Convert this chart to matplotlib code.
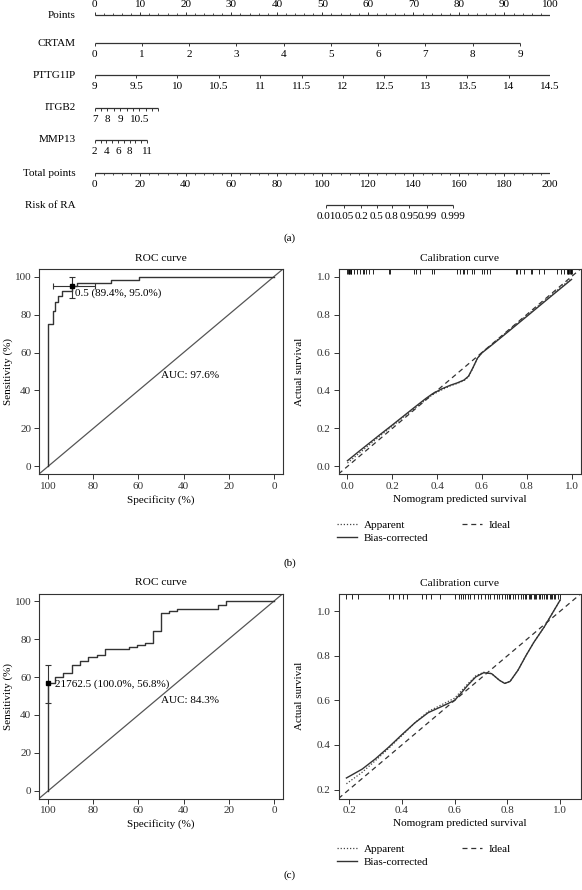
import numpy as np
import matplotlib.pyplot as plt

plt.rcParams["font.family"] = ["Liberation Serif", "DejaVu Serif"]
plt.rcParams["font.size"] = 8.0

INK = "#333333"

# ---- nomogram (a) ----
ROW_NAMES = ["Points", "CRTAM", "PTTG1IP", "ITGB2", "MMP13", "Total points", "Risk of RA"]

CRTAM_TICKS = [0, 1, 2, 3, 4, 5, 6, 7, 8, 9]
CRTAM_LABELS = ["0", "1", "2", "3", "4", "5", "6", "7", "8", "9"]
CRTAM_MAX_POINTS = 93.4

PTTG1IP_TICKS = [9, 9.5, 10, 10.5, 11, 11.5, 12, 12.5, 13, 13.5, 14, 14.5]
PTTG1IP_LABELS = ["9", "9.5", "10", "10.5", "11", "11.5", "12", "12.5", "13", "13.5", "14", "14.5"]
PTTG1IP_MAX_POINTS = 100.0

ITGB2_TICKS = [7, 7.5, 8, 8.5, 9, 9.5, 10, 10.5, 11, 11.5, 12]
ITGB2_LABELS = ["7", "8", "9", "10.5"]
ITGB2_MAX_POINTS = 14.0

MMP13_TICKS = [2, 3, 4, 5, 6, 7, 8, 9, 10, 11]
MMP13_LABELS = ["2", "4", "6", "8", "11"]
MMP13_MAX_POINTS = 11.5

RISK_LABELS = [0.01, 0.05, 0.2, 0.5, 0.8, 0.95, 0.99, 0.999]
RISK_TOTAL_AT_HALF = 123.8   # total points where risk = 0.5
RISK_POINTS_PER_LOGIT = 4.84

# ---- ROC (b) ----
ROC_B_SPEC = [100, 100, 97.9, 97.9, 96.8, 96.8, 95.7, 95.7, 93.6, 93.6, 89.4, 89.4,
              87.2, 87.2, 72.3, 72.3, 59.6, 59.6, 0]
ROC_B_SENS = [0, 75, 75, 81.7, 81.7, 86.7, 86.7, 90, 90, 92.5, 92.5, 95,
              95, 96.7, 96.7, 98.3, 98.3, 100, 100]
ROC_B_THRES = (89.4, 95.0)
ROC_B_SPEC_CI = (79.1, 98.0)
ROC_B_SENS_CI = (88.6, 100.0)
ROC_B_TEXT = "0.5 (89.4%, 95.0%)"
ROC_B_AUC = "AUC: 97.6%"

# ---- ROC (c) ----
ROC_C_SPEC = [100, 100, 97.0, 97.0, 93.3, 93.3, 89.6, 89.6, 85.9, 85.9, 82.2, 82.2,
              78.4, 78.4, 75.0, 75.0, 64.3, 64.3, 60.6, 60.6, 57.2, 57.2, 53.5, 53.5,
              49.9, 49.9, 46.5, 46.5, 42.8, 42.8, 24.7, 24.7, 21.3, 21.3, 0]
ROC_C_SENS = [0, 56.8, 56.8, 59.8, 59.8, 62.3, 62.3, 66.1, 66.1, 68.6, 68.6, 70.4,
              70.4, 71.8, 71.8, 74.6, 74.6, 75.9, 75.9, 77.0, 77.0, 78.1, 78.1, 84.4,
              84.4, 93.9, 93.9, 94.9, 94.9, 95.8, 95.8, 97.9, 97.9, 100, 100]
ROC_C_THRES = (100.0, 56.8)
ROC_C_SENS_CI = (46.2, 66.3)
ROC_C_TEXT = "21762.5 (100.0%, 56.8%)"
ROC_C_AUC = "AUC: 84.3%"

# ---- calibration (b) ----
CAL_B_PRED = [0.0, 0.05, 0.1, 0.15, 0.2, 0.25, 0.3, 0.35, 0.38, 0.42, 0.46, 0.49,
              0.52, 0.54, 0.56, 0.58, 0.6, 0.65, 0.7, 0.8, 0.9, 1.0]
CAL_B_BIAS = [0.03, 0.078, 0.125, 0.172, 0.218, 0.265, 0.312, 0.358, 0.383, 0.408,
              0.428, 0.44, 0.455, 0.475, 0.52, 0.57, 0.598, 0.645, 0.693, 0.79, 0.888, 0.985]
CAL_B_APPARENT = [0.018, 0.067, 0.116, 0.165, 0.212, 0.26, 0.305, 0.352, 0.378, 0.403,
                  0.425, 0.437, 0.452, 0.472, 0.518, 0.57, 0.6, 0.648, 0.697, 0.795, 0.893, 0.99]
CAL_B_RUG = [0.0, 0.003, 0.006, 0.009, 0.012, 0.015, 0.018, 0.03, 0.042, 0.057, 0.07,
             0.074, 0.084, 0.098, 0.116, 0.185, 0.191, 0.298, 0.307, 0.322, 0.377,
             0.385, 0.489, 0.504, 0.515, 0.521, 0.534, 0.556, 0.563, 0.601, 0.608,
             0.623, 0.635, 0.75, 0.757, 0.772, 0.787, 0.817, 0.824, 0.854, 0.876,
             0.936, 0.951, 0.966, 0.978, 0.982, 0.986, 0.99, 0.993, 0.996, 0.999, 1.0]

# ---- calibration (c) ----
CAL_C_PRED = [0.19, 0.25, 0.3, 0.35, 0.4, 0.45, 0.5, 0.55, 0.6, 0.63, 0.65, 0.68,
              0.71, 0.74, 0.77, 0.79, 0.81, 0.84, 0.87, 0.9, 0.94, 0.97, 1.0]
CAL_C_BIAS = [0.252, 0.292, 0.338, 0.39, 0.446, 0.5, 0.545, 0.572, 0.6, 0.64, 0.668,
              0.705, 0.724, 0.72, 0.69, 0.676, 0.685, 0.735, 0.8, 0.86, 0.93, 0.99, 1.05]
CAL_C_APPARENT = [0.226, 0.278, 0.33, 0.385, 0.442, 0.5, 0.55, 0.58, 0.61, 0.648, 0.674,
                  0.71, 0.726, 0.72, 0.69, 0.676, 0.685, 0.735, 0.8, 0.86, 0.93, 0.99, 1.05]
CAL_C_RUG = [0.19, 0.21, 0.235, 0.35, 0.365, 0.39, 0.405, 0.42, 0.475, 0.49, 0.51,
             0.545, 0.6, 0.615, 0.625, 0.632, 0.64, 0.65, 0.66, 0.675, 0.69, 0.7,
             0.715, 0.725, 0.735, 0.75, 0.76, 0.77, 0.78, 0.79, 0.8, 0.805, 0.81,
             0.82, 0.83, 0.84, 0.85, 0.86, 0.865, 0.87, 0.88, 0.885, 0.89, 0.9, 0.905,
             0.91, 0.92, 0.925, 0.93, 0.94, 0.945, 0.95, 0.96, 0.965, 0.97, 0.975,
             0.98, 0.99, 1.0]

W, H = 582, 890
fig = plt.figure(figsize=(W / 100, H / 100), dpi=100)


def px_axes(left, top, right, bottom):
    return fig.add_axes([left / W, 1 - bottom / H, (right - left) / W, (bottom - top) / H])


def scale_points(values, max_points):
    values = np.asarray(values, dtype=float)
    return (values - values[0]) / (values[-1] - values[0]) * max_points


def draw_scale(ax, y, tick_pts, label_pts, labels, up=False, minor_pts=None):
    ax.plot([tick_pts[0], tick_pts[-1]], [y, y], color=INK, lw=0.9, solid_capstyle="butt")
    sign = -1 if up else 1
    ax.vlines(tick_pts, y, y + sign * 3.3, color=INK, lw=0.7)
    if minor_pts is not None:
        ax.vlines(minor_pts, y, y + sign * 1.8, color=INK, lw=0.6)
    for p, lab in zip(label_pts, labels):
        if up:
            ax.text(p, y - 6.0, lab, ha="center", va="bottom")
        else:
            ax.text(p, y + 7.0, lab, ha="center", va="top")


nom = px_axes(94.7, 0, 550, 230)
nom.set_xlim(0, 100)
nom.set_ylim(230, 0)
nom.axis("off")
row_y = [15, 43, 75, 108, 140, 173, 205]

for name, y in zip(ROW_NAMES, row_y):
    nom.annotate(name, xy=(0, y), xytext=(-13.5, 0), textcoords="offset points",
                 ha="right", va="center", annotation_clip=False)

major = np.arange(0, 101, 10)
draw_scale(nom, row_y[0], major, major, [str(v) for v in major], up=True,
           minor_pts=np.arange(0, 101, 2))

crtam_pts = scale_points(CRTAM_TICKS, CRTAM_MAX_POINTS)
draw_scale(nom, row_y[1], crtam_pts, crtam_pts, CRTAM_LABELS)

pttg_pts = scale_points(PTTG1IP_TICKS, PTTG1IP_MAX_POINTS)
draw_scale(nom, row_y[2], pttg_pts, pttg_pts, PTTG1IP_LABELS)

itgb_pts = scale_points(ITGB2_TICKS, ITGB2_MAX_POINTS)
itgb_lab = [itgb_pts[ITGB2_TICKS.index(float(v))] for v in ITGB2_LABELS]
draw_scale(nom, row_y[3], itgb_pts, itgb_lab, ITGB2_LABELS)

mmp_pts = scale_points(MMP13_TICKS, MMP13_MAX_POINTS)
mmp_lab = [mmp_pts[MMP13_TICKS.index(int(v))] for v in MMP13_LABELS]
draw_scale(nom, row_y[4], mmp_pts, mmp_lab, MMP13_LABELS)

total_major = np.arange(0, 201, 20)
draw_scale(nom, row_y[5], total_major / 2, total_major / 2, [str(v) for v in total_major],
           minor_pts=np.arange(0, 201, 4) / 2)

risk = np.array(RISK_LABELS)
risk_total = RISK_TOTAL_AT_HALF + RISK_POINTS_PER_LOGIT * np.log(risk / (1 - risk))
draw_scale(nom, row_y[6], risk_total / 2, risk_total / 2, [f"{v:g}" for v in RISK_LABELS])


def r_style(ax):
    for sp in ax.spines.values():
        sp.set_linewidth(0.8)
        sp.set_color(INK)
    ax.tick_params(direction="out", length=3.5, width=0.7, pad=2, colors=INK)


def roc_panel(top, bottom, spec, sens, thres, text, auc, spec_ci, sens_ci, text_off):
    ax = px_axes(39, top, 283, bottom)
    ax.set_xlim(104, -4)
    ax.set_ylim(-4, 104)
    ax.axline((100, 0), (0, 100), color="#555555", lw=0.9)
    ax.plot(spec, sens, color=INK, lw=1.0)
    xerr = None
    if spec_ci is not None:
        xerr = [[thres[0] - spec_ci[0]], [spec_ci[1] - thres[0]]]
    yerr = [[thres[1] - sens_ci[0]], [sens_ci[1] - thres[1]]]
    ax.errorbar([thres[0]], [thres[1]], xerr=xerr, yerr=yerr, fmt="s", ms=2.2,
                color="black", ecolor=INK, elinewidth=0.8, capsize=2.2, capthick=0.8)
    ax.annotate(text, xy=thres, xytext=text_off, textcoords="offset points",
                ha="left", va="top")
    ax.text(50, 50, auc, ha="left", va="top")
    ax.set_xticks([100, 80, 60, 40, 20, 0])
    ax.set_yticks([0, 20, 40, 60, 80, 100])
    ax.set_xlabel("Specificity (%)", labelpad=3)
    ax.set_ylabel("Sensitivity (%)")
    ax.yaxis.set_label_coords(-26 / 244, 0.5)
    ax.set_title("ROC curve", fontsize=8.2, pad=6)
    r_style(ax)
    return ax


def cal_panel(top, bottom, lims, ticks, pred, apparent, bias, rug, legend_top):
    ax = px_axes(338.5, top, 580.5, bottom)
    ax.set_xlim(*lims)
    ax.set_ylim(*lims)
    ideal = ax.axline((0.5, 0.5), slope=1, color=INK, lw=0.9, ls=(0, (4, 3)), label="Ideal")
    app, = ax.plot(pred, apparent, color="#444444", lw=0.9, ls=(0, (1, 1.5)), label="Apparent")
    bc, = ax.plot(pred, bias, color=INK, lw=1.0, label="Bias-corrected")
    ax.vlines(rug, 0.975, 1.0, transform=ax.get_xaxis_transform(), color="black", lw=0.6)
    ax.set_xticks(ticks)
    ax.set_yticks(ticks)
    ax.set_xticklabels([f"{t:.1f}" for t in ticks])
    ax.set_yticklabels([f"{t:.1f}" for t in ticks])
    ax.set_xlabel("Nomogram predicted survival", labelpad=3)
    ax.set_ylabel("Actual survival")
    ax.yaxis.set_label_coords(-35 / 242, 0.5)
    ax.set_title("Calibration curve", fontsize=8.2, pad=6)
    r_style(ax)
    fig.legend(handles=[app, bc, ideal], loc="upper left",
               bbox_to_anchor=(337 / W, 1 - legend_top / H), ncol=2, frameon=False,
               borderpad=0, borderaxespad=0, handlelength=1.8, handletextpad=0.6,
               labelspacing=0.3, columnspacing=3.0)
    return ax


roc_panel(269, 474, ROC_B_SPEC, ROC_B_SENS, ROC_B_THRES, ROC_B_TEXT, ROC_B_AUC,
          ROC_B_SPEC_CI, ROC_B_SENS_CI, (2, -2))
cal_panel(269, 474, (-0.04, 1.04), [0.0, 0.2, 0.4, 0.6, 0.8, 1.0],
          CAL_B_PRED, CAL_B_APPARENT, CAL_B_BIAS, CAL_B_RUG, 520)

roc_panel(593.5, 798.5, ROC_C_SPEC, ROC_C_SENS, ROC_C_THRES, ROC_C_TEXT, ROC_C_AUC,
          None, ROC_C_SENS_CI, (5, 3))
cal_panel(594, 798.5, (0.16, 1.077), [0.2, 0.4, 0.6, 0.8, 1.0],
          CAL_C_PRED, CAL_C_APPARENT, CAL_C_BIAS, CAL_C_RUG, 844)

for lab, y in [("(a)", 238), ("(b)", 563), ("(c)", 875)]:
    fig.text(290 / W, 1 - y / H, lab, ha="center", va="center")

fig.savefig("out.png", dpi=100)
